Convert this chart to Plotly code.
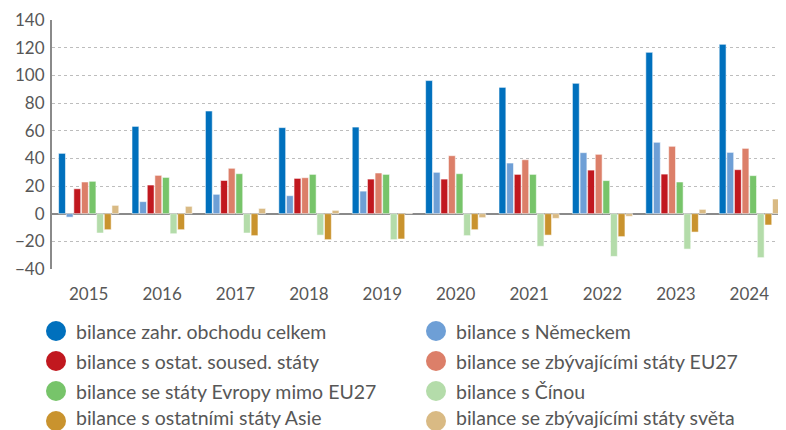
import plotly.graph_objects as go

years = ["2015", "2016", "2017", "2018", "2019", "2020", "2021", "2022", "2023", "2024"]

celkem = [43.6, 63.1, 74.2, 62.2, 62.6, 96.2, 91.3, 94.2, 116.6, 122.4]
nemecko = [-2.5, 8.7, 14.0, 13.0, 16.3, 29.9, 36.6, 44.1, 51.6, 44.3]
sousede = [18.0, 20.7, 24.0, 25.5, 25.0, 25.0, 28.4, 31.5, 28.6, 31.8]
eu27 = [22.9, 27.7, 32.8, 26.0, 29.4, 41.9, 39.0, 42.9, 48.7, 47.2]
evropa = [23.4, 26.2, 28.9, 28.4, 28.4, 28.9, 28.4, 23.9, 22.9, 27.5]
cina = [-14.0, -14.5, -14.0, -15.5, -18.8, -15.9, -23.6, -30.9, -25.6, -31.8]
asie = [-11.6, -11.6, -15.9, -18.8, -18.3, -11.6, -15.5, -16.6, -13.3, -8.2]
svet = [6.0, 5.3, 3.8, 2.4, 0.3, -2.9, -3.4, -1.9, 3.1, 10.6]

names = [
    "bilance zahr. obchodu celkem",
    "bilance s Německem",
    "bilance s ostat. soused. státy",
    "bilance se zbývajícími státy EU27",
    "bilance se státy Evropy mimo EU27",
    "bilance s Čínou",
    "bilance s ostatními státy Asie",
    "bilance se zbývajícími státy světa",
]
series = [celkem, nemecko, sousede, eu27, evropa, cina, asie, svet]
colors = ["#0070bd", "#6e9fd6", "#c1181f", "#dc7f69", "#77c46a", "#b4dcaa", "#c9932e", "#d9ba84"]

FONT = "Lato"
TXT = "#575757"

# the page body has an 8px margin, so the figure is drawn 8px right / down
OFF = 8
W, H = 786 - OFF, 430 - OFF
L, R, T, B = 52 - OFF, 0, 20 - OFF, 161
PW, PH = W - L - R, H - T - B


def px_x(px):
    return (px - OFF - L) / PW


def px_y(py):
    return (H - B - (py - OFF)) / PH


fig = go.Figure()
for name, vals, col in zip(names, series, colors):
    fig.add_trace(go.Bar(
        x=years, y=vals, name=name, showlegend=False,
        marker=dict(color=col, line=dict(color="rgba(255,255,255,0.55)", width=1)),
    ))

# manual legend: two columns, four rows (positions in page pixels)
col_marker = [56, 436]
col_text = [75, 455]
row_y = [331, 361, 391, 421]
text_bottom = [343.5, 373.5, 403.5, 430]
shapes = []
annotations = []
for i, (name, col) in enumerate(zip(names, colors)):
    c, r = i % 2, i // 2
    shapes.append(dict(
        type="circle", xref="paper", yref="paper",
        xsizemode="pixel", ysizemode="pixel",
        xanchor=px_x(col_marker[c]), yanchor=px_y(row_y[r]),
        x0=-10, x1=10, y0=-10, y1=10,
        fillcolor=col, line=dict(width=0),
    ))
    annotations.append(dict(
        xref="paper", yref="paper", x=px_x(col_text[c]), y=px_y(text_bottom[r]),
        xanchor="left", yanchor="bottom", text=name, showarrow=False,
        font=dict(family=FONT, size=19.5, color=TXT), borderpad=0,
    ))

fig.update_layout(
    width=W, height=H,
    margin=dict(l=L, r=R, t=T, b=B, autoexpand=False),
    plot_bgcolor="white", paper_bgcolor="white",
    barmode="group", bargap=0.17, bargroupgap=0.1,
    font=dict(family=FONT, size=17, color=TXT),
    showlegend=False,
    shapes=shapes, annotations=annotations,
)
fig.update_xaxes(
    type="category", showgrid=False, showline=False, automargin=False,
    ticks="outside", ticklen=10, tickcolor="rgba(0,0,0,0)",
    tickfont=dict(size=17, color=TXT),
)
fig.update_yaxes(
    range=[-40, 140], dtick=20, showline=True, linecolor="#8a8a8a", linewidth=2,
    showgrid=True, gridcolor="#bdbdbd", griddash="dot", gridwidth=1,
    zeroline=True, zerolinecolor="#8a8a8a", zerolinewidth=2, automargin=False,
    ticks="outside", ticklen=2, tickcolor="rgba(0,0,0,0)",
    tickfont=dict(size=17, color=TXT),
)

fig.write_html("out.html")
